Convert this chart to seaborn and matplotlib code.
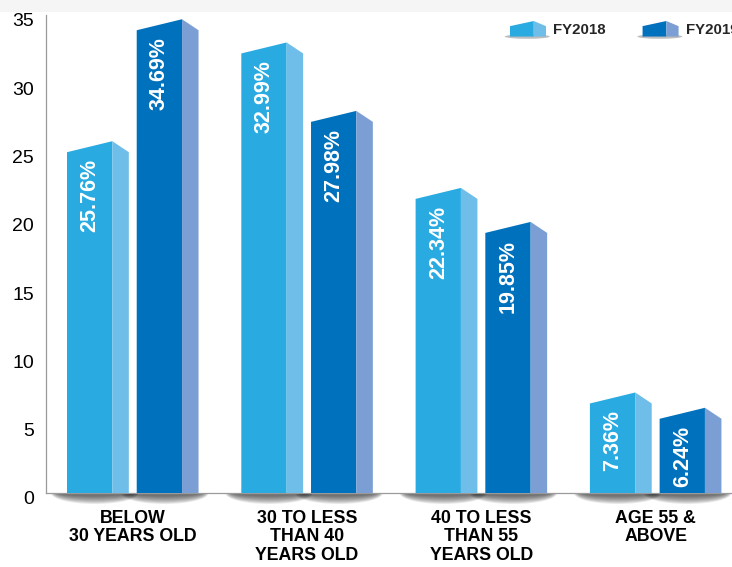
import numpy as np
import pandas as pd
import matplotlib
matplotlib.use("Agg")
import matplotlib.pyplot as plt
import seaborn as sns
from matplotlib.patches import Polygon, Ellipse, Rectangle, Patch
from matplotlib.legend_handler import HandlerBase
from matplotlib.transforms import ScaledTranslation

# ---------------- data ----------------
categories = ["BELOW\n30 YEARS OLD",
              "30 TO LESS\nTHAN 40\nYEARS OLD",
              "40 TO LESS\nTHAN 55\nYEARS OLD",
              "AGE 55 &\nABOVE"]
years = ["FY2018", "FY2019"]
fy2018 = [25.76, 32.99, 22.34, 7.36]
fy2019 = [34.69, 27.98, 19.85, 6.24]
yticks = [0, 5, 10, 15, 20, 25, 30, 35]

front_colors = ["#29ABE2", "#0071BC"]
side_colors = ["#6EBEE9", "#7B9FD4"]

df = pd.DataFrame({
    "category": categories * 2,
    "year": [years[0]] * len(categories) + [years[1]] * len(categories),
    "value": fy2018 + fy2019,
})

# ---------------- figure ----------------
W, H, DPI = 732, 567, 100
sns.set_style("white")
plt.rcParams["font.family"] = ["Liberation Sans", "DejaVu Sans"]

fig = plt.figure(figsize=(W / DPI, H / DPI), dpi=DPI)
fig.add_artist(Rectangle((0, 1 - 12 / H), 1, 12 / H, transform=fig.transFigure,
                         facecolor="#f5f5f5", edgecolor="none", zorder=0))
ax = fig.add_axes([46 / W, 74 / H, 1 - 46 / W, 478 / H])
ax.patch.set_alpha(0)

sns.barplot(data=df, x="category", y="value", hue="year", order=categories,
            hue_order=years, palette=front_colors, width=0.8, gap=0.35,
            saturation=1, legend=False, ax=ax)

PX_X = 174.3                 # pixels per category unit
X0 = -0.4505
X1 = X0 + (W - 46) / PX_X
Y0, Y1 = 0, 35
PX_Y = 478 / (Y1 - Y0)
ax.set_xlim(X0, X1)
ax.set_ylim(Y0, Y1)

side_w = 16.5 / PX_X
roof = 11 / PX_Y
clip_rect = Rectangle((X0, -5), X1 - X0, 5, transform=ax.transData)

for ci, cont in enumerate(ax.containers):
    for bar in cont:
        x, w, h = bar.get_x(), bar.get_width(), bar.get_height()
        bar.set_visible(False)
        # soft shadow below baseline
        cx = x + (w + side_w) / 2 - 3 / PX_X
        ew = w + side_w + 26 / PX_X
        eh = 2 * 11 / PX_Y
        for s in np.linspace(1.0, 0.3, 10):
            e = Ellipse((cx, 0), ew * (0.8 + 0.2 * s), eh * s,
                        facecolor="#1a1a1a", edgecolor="none", alpha=0.085, zorder=0.5)
            ax.add_patch(e)
            e.set_clip_path(clip_rect)
        front = Polygon([(x, 0), (x, h - roof), (x + w, h), (x + w, 0)], closed=True,
                        facecolor=front_colors[ci], edgecolor="none", zorder=2)
        side = Polygon([(x + w, 0), (x + w, h), (x + w + side_w, h - roof),
                        (x + w + side_w, 0)], closed=True,
                       facecolor=side_colors[ci], edgecolor="none", zorder=2)
        ax.add_patch(front)
        ax.add_patch(side)
        ax.annotate(f"{h:.2f}%", xy=(x + w / 2, h), xytext=(0, -18),
                    textcoords="offset pixels", rotation=90, ha="center", va="top",
                    color="white", fontsize=15.5, fontweight="bold", zorder=3)

# ---------------- axes styling ----------------
sns.despine(ax=ax, top=True, right=True)
for sp in ["left", "bottom"]:
    ax.spines[sp].set_color("#9a9a9a")
    ax.spines[sp].set_linewidth(0.9)
    ax.spines[sp].set_zorder(1)

ax.set_yticks(yticks)
ax.set_yticklabels([str(t) for t in yticks])
ax.tick_params(axis="y", direction="in", length=12.2, width=0.75, color="#9a9a9a",
               labelsize=14, pad=8.6, labelcolor="black")
for lab in ax.get_yticklabels():
    lab.set_transform(lab.get_transform() + ScaledTranslation(0, -5 / DPI, fig.dpi_scale_trans))

ax.set_xticks([i + 0.047 for i in range(len(categories))])
ax.set_xticklabels(categories)
ax.tick_params(axis="x", length=0, pad=12, labelsize=12.8, labelcolor="black")
for lab in ax.get_xticklabels():
    lab.set_fontweight("bold")
    lab.set_linespacing(1.12)
    lab.set_multialignment("center")
ax.set_xlabel("")
ax.set_ylabel("")
ax.grid(False)


# ---------------- legend with 3D box icons ----------------
class Box3D(HandlerBase):
    def __init__(self, side_color):
        super().__init__()
        self.side_color = side_color

    def create_artists(self, legend, orig_handle, xdescent, ydescent, width, height,
                       fontsize, trans):
        x0, y0 = -xdescent, -ydescent
        base = y0 + 0.02 * height
        top = y0 + 1.0 * height
        r = 0.33 * (top - base)
        fw = 0.66 * width
        sh = Ellipse((x0 + width * 0.48, base), width * 1.25, height * 0.28,
                     facecolor="#444444", edgecolor="none", alpha=0.35, transform=trans)
        front = Polygon([(x0, base), (x0, top - r), (x0 + fw, top), (x0 + fw, base)],
                        closed=True, facecolor=orig_handle.get_facecolor(),
                        edgecolor="none", transform=trans)
        side = Polygon([(x0 + fw, base), (x0 + fw, top), (x0 + width, top - r),
                        (x0 + width, base)], closed=True, facecolor=self.side_color,
                       edgecolor="none", transform=trans)
        return [sh, front, side]


handles = [Patch(facecolor=c) for c in front_colors]
hmap = {h: Box3D(s) for h, s in zip(handles, side_colors)}
fig.legend(handles, years, handler_map=hmap, loc="center left",
           bbox_to_anchor=(510 / W, 1 - 29 / H), bbox_transform=fig.transFigure,
           ncol=2, frameon=False, borderpad=0, borderaxespad=0,
           handlelength=2.4, handleheight=1.25, handletextpad=0.48,
           columnspacing=2.45, prop={"weight": "bold", "size": 10.8})

fig.savefig("out.png", dpi=DPI)
